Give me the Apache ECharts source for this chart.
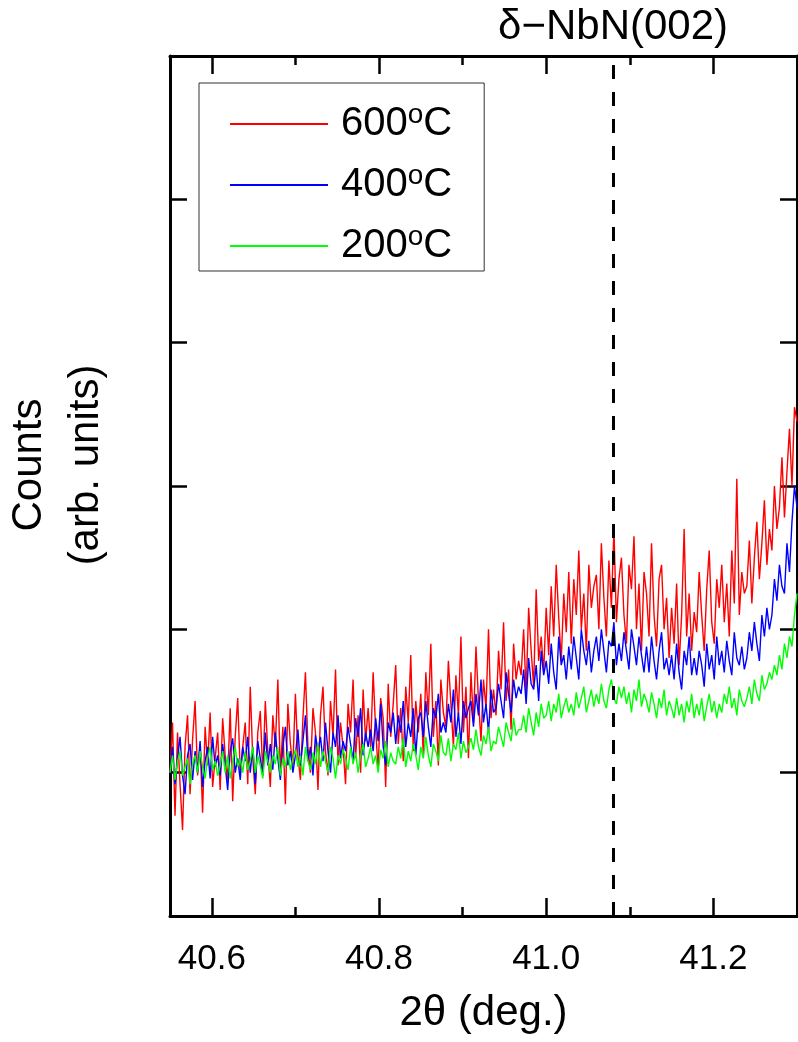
<!DOCTYPE html>
<html>
<head>
    <meta charset="utf-8">
    <title>XRD NbN(002)</title>
    <script type="text/javascript" src="https://cdn.jsdelivr.net/npm/echarts@6/dist/echarts.min.js"></script>
    <style>
        html, body { margin: 0; padding: 0; background: #fff; }
    </style>
</head>
<body>
<div id="chartmain" style="width:798px; height:1042px;"></div>
<script type="text/javascript">
// 2theta grid of the scan (deg.), one reading every angleStep
var angleStart = 40.55;
var angleStep = 0.003;

// counts (arb. units), 10 readings per line
var red600 = [
    100, 135, 70, 128, 92, 60, 118, 140, 85, 123,
    150, 98, 120, 72, 132, 105, 142, 90, 110, 128,
    88, 138, 112, 95, 145, 80, 125, 152, 100, 118,
    135, 92, 160, 110, 85, 128, 143, 98, 150, 115,
    90, 140, 118, 165, 100, 132, 78, 148, 120, 105,
    155, 112, 95, 138, 170, 118, 100, 145, 128, 88,
    140, 160, 115, 98, 150, 125, 172, 105, 135, 118,
    92, 148, 128, 165, 110, 140, 100, 158, 122, 145,
    118, 170, 130, 102, 152, 138, 90, 162, 125, 148,
    175, 120, 145, 108, 160, 135, 182, 115, 150, 128,
    155, 112, 170, 140, 190, 125, 150, 105, 165, 142,
    132, 178, 148, 118, 168, 140, 195, 128, 160, 110,
    170, 135, 188, 150, 122, 165, 145, 200, 138, 158,
    140, 185, 158, 205, 150, 172, 130, 190, 165, 178,
    168, 200, 155, 215, 185, 160, 228, 178, 195, 170,
    215, 182, 230, 195, 245, 208, 178, 225, 198, 240,
    190, 235, 210, 255, 200, 225, 185, 245, 215, 230,
    238, 200, 260, 222, 195, 248, 215, 270, 205, 235,
    250, 210, 190, 245, 228, 265, 200, 232, 185, 240,
    225, 195, 260, 210, 188, 235, 245, 200, 222, 180,
    215, 190, 232, 175, 210, 270, 195, 225, 185, 212,
    198, 240, 210, 185, 228, 255, 205, 190, 235, 215,
    245, 205, 232, 195, 255, 218, 305, 210, 240, 225,
    230, 262, 218, 250, 275, 235, 260, 290, 245, 270,
    255, 300, 270, 285, 320, 278, 310, 340, 300, 355,
    345
];
var blue400 = [
    100, 118, 92, 110, 125, 98, 85, 112, 120, 95,
    115, 100, 122, 90, 108, 118, 96, 125, 104, 112,
    98, 120, 105, 88, 115, 124, 100, 110, 95, 118,
    108, 125, 100, 118, 92, 122, 110, 98, 128, 105,
    120, 102, 128, 110, 95, 118, 132, 105, 115, 100,
    112, 130, 105, 122, 140, 108, 118, 98, 126, 115,
    125, 108, 135, 115, 100, 128, 118, 140, 110, 122,
    115, 132, 120, 108, 138, 125, 145, 112, 128, 118,
    130, 115, 138, 122, 148, 118, 105, 135, 128, 142,
    120, 140, 128, 150, 118, 135, 125, 145, 112, 138,
    142, 125, 150, 132, 118, 145, 138, 155, 128, 135,
    128, 148, 135, 158, 125, 142, 120, 150, 138, 145,
    150, 132, 155, 140, 165, 135, 148, 128, 158, 142,
    145, 162, 150, 138, 170, 155, 142, 165, 152, 160,
    155, 172, 148, 180, 162, 158, 175, 150, 185, 168,
    178, 162, 190, 170, 158, 195, 175, 182, 165, 188,
    172, 195, 180, 165, 200, 185, 175, 192, 170, 185,
    195, 178, 200, 185, 170, 192, 188, 205, 175, 190,
    178, 198, 185, 172, 200, 188, 175, 195, 182, 170,
    188, 170, 195, 178, 165, 185, 198, 172, 180, 168,
    182, 165, 190, 170, 158, 185, 175, 195, 168, 180,
    168, 185, 175, 160, 190, 172, 182, 165, 195, 175,
    185, 170, 192, 178, 168, 198, 180, 175, 188, 172,
    180, 198, 185, 205, 190, 178, 210, 195, 215, 200,
    210, 235, 220, 245, 230, 225, 260, 240, 275, 300,
    285
];
var green200 = [
    100, 112, 95, 108, 115, 98, 104, 110, 92, 106,
    112, 100, 115, 104, 96, 110, 118, 102, 108, 98,
    105, 115, 100, 112, 96, 108, 118, 104, 110, 100,
    114, 102, 108, 118, 100, 112, 105, 96, 115, 108,
    100, 112, 106, 118, 98, 110, 104, 115, 102, 110,
    116, 104, 112, 98, 118, 108, 102, 114, 106, 120,
    104, 115, 108, 100, 118, 110, 96, 112, 106, 116,
    110, 102, 118, 106, 114, 100, 112, 120, 104, 110,
    118, 106, 112, 100, 116, 110, 122, 104, 114, 108,
    106, 118, 110, 124, 104, 115, 108, 120, 112, 102,
    118, 110, 125, 112, 104, 120, 115, 108, 126, 114,
    112, 124, 108, 120, 116, 128, 110, 122, 114, 118,
    124, 116, 130, 118, 112, 126, 120, 132, 115, 122,
    120, 132, 125, 118, 135, 128, 122, 138, 126, 130,
    130, 140, 128, 145, 135, 126, 142, 132, 148, 138,
    140, 150, 136, 148, 142, 155, 138, 146, 152, 142,
    148, 140, 156, 145, 152, 160, 142, 150, 158, 146,
    155, 148, 162, 150, 145, 158, 165, 152, 148, 160,
    152, 160, 148, 156, 142, 158, 150, 165, 146, 155,
    150, 142, 156, 148, 138, 152, 145, 158, 140, 150,
    145, 138, 152, 140, 148, 135, 150, 142, 155, 138,
    148, 140, 152, 136, 146, 155, 142, 150, 138, 148,
    142, 155, 148, 160, 145, 152, 140, 158, 150, 146,
    152, 160, 148, 165, 155, 150, 168, 158, 162, 170,
    165, 175, 168, 182, 172, 190, 180, 195, 188, 210,
    225
];

var seriesNames = ['600°C', '400°C', '200°C'];
var seriesColors = ['#ff0000', '#0000ff', '#00ff00'];
var majorTicks = [40.6, 40.8, 41.0, 41.2];
var minorTicks = [40.7, 40.9, 41.1];
var peakPosition = 41.08;
var peakLabel = 'δ−NbN(002)';

function toPairs(arr) {
    var out = [];
    for (var i = 0; i < arr.length; i++) {
        out.push([+(angleStart + i * angleStep).toFixed(4), arr[i]]);
    }
    return out;
}

var font = 'Liberation Sans, Arial, Helvetica, sans-serif';
var spine = { show: true, lineStyle: { color: '#000', width: 3 } };

function xAxisDef(pos, ticks, len, withLine, withLabel) {
    return {
        type: 'value', position: pos, min: 40.55, max: 41.30,
        axisLine: withLine ? spine : { show: false },
        splitLine: { show: false },
        axisTick: { show: true, inside: true, length: len, customValues: ticks,
            lineStyle: { color: '#000', width: 2.5 } },
        axisLabel: withLabel ? {
            show: true, customValues: ticks, margin: 26,
            fontSize: 35, color: '#000', fontFamily: font,
            formatter: function (v) { return v.toFixed(1); }
        } : { show: false }
    };
}

var xMain = xAxisDef('bottom', majorTicks, 18, true, true);
xMain.name = '2θ (deg.)';
xMain.nameLocation = 'middle';
xMain.nameGap = 76;
xMain.nameTextStyle = { fontSize: 42, color: '#000', fontFamily: font };

function yAxisDef(pos) {
    return {
        type: 'value', position: pos, min: 0, max: 600, interval: 100,
        axisLine: spine,
        splitLine: { show: false },
        axisTick: { show: true, inside: true, length: 17, lineStyle: { color: '#000', width: 2.5 } },
        axisLabel: { show: false }
    };
}
var yMain = yAxisDef('left');
yMain.name = 'Counts\n(arb. units)';
yMain.nameLocation = 'middle';
yMain.nameRotate = 90;
yMain.nameGap = 55;
yMain.nameTextStyle = { fontSize: 42, lineHeight: 57, color: '#000', fontFamily: font,
    align: 'center', padding: [0, 0, 0, 42] };

var series = [red600, blue400, green200].map(function (arr, i) {
    return {
        name: seriesNames[i], type: 'line', data: toPairs(arr),
        xAxisIndex: 0, yAxisIndex: 0,
        symbol: 'none', animation: false,
        lineStyle: { color: seriesColors[i], width: 1.4 },
        itemStyle: { color: seriesColors[i] }
    };
});
series[0].markLine = {
    silent: true, symbol: 'none', animation: false,
    lineStyle: { color: '#000', type: [14, 13], width: 3 },
    label: { show: true, position: 'end', formatter: peakLabel, distance: 8,
        fontSize: 42, color: '#000', fontFamily: font },
    data: [{ xAxis: peakPosition }]
};

var option = {
    animation: false,
    grid: { left: 170, right: 1, top: 56, bottom: 126, outerBoundsMode: 'none' },
    legend: {
        data: seriesNames.map(function (n) { return { name: n, icon: 'rect' }; }),
        orient: 'vertical', left: 199, top: 83,
        padding: [18, 32, 5, 31], itemGap: 18, itemWidth: 98, itemHeight: 2,
        borderColor: '#333', borderWidth: 1,
        formatter: function (name) { return '{n|' + name.replace('°C', '') + '}{s|o}{n|C}'; },
        textStyle: {
            fontFamily: font, color: '#000', padding: [0, 0, 0, 8],
            rich: {
                n: { fontSize: 40, lineHeight: 46, fontFamily: font, color: '#000' },
                s: { fontSize: 28, lineHeight: 26, fontFamily: font, color: '#000', verticalAlign: 'top' }
            }
        }
    },
    xAxis: [
        xMain,
        xAxisDef('bottom', minorTicks, 9, false, false),
        xAxisDef('top', majorTicks, 18, true, false),
        xAxisDef('top', minorTicks, 9, false, false)
    ],
    yAxis: [yMain, yAxisDef('right')],
    series: series
};

var myChart = echarts.init(document.getElementById('chartmain'));
myChart.setOption(option);
</script>
</body>
</html>
